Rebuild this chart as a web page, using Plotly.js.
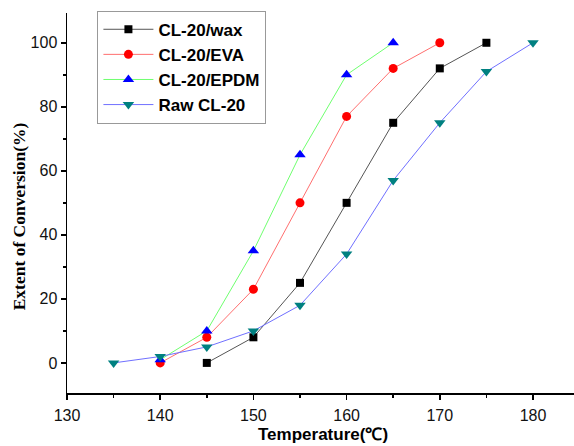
<!DOCTYPE html>
<html>
<head>
<meta charset="utf-8">
<script src="https://cdn.plot.ly/plotly-3.0.1.min.js"></script>
<style>html,body{margin:0;padding:0;background:#fff;}#chart{width:574px;height:446px;}</style>
</head>
<body>
<div id="chart"></div>
<script>
const waxT = [145, 150, 155, 160, 165, 170, 175];
const waxY = [0, 8, 25, 50, 75, 92, 100];
const evaT = [140, 145, 150, 155, 160, 165, 170];
const evaY = [0, 8, 23, 50, 77, 92, 100];
const epdmT = [140, 145, 150, 155, 160, 165];
const epdmY = [1, 10, 35, 65, 90, 100];
const rawT = [135, 140, 145, 150, 155, 160, 165, 170, 175, 180];
const rawY = [0, 2, 5, 10, 18, 34, 57, 75, 91, 100];
const names = ['CL-20/wax', 'CL-20/EVA', 'CL-20/EPDM', 'Raw CL-20'];
const xTicks = [130, 140, 150, 160, 170, 180];
const yTicks = [0, 20, 40, 60, 80, 100];
const xTitle = 'Temperature(℃)';
const yTitle = 'Extent of Conversion(%)';

const traces = [
  {x: waxT, y: waxY, name: names[0], mode: 'lines+markers',
   line: {color: '#555555', width: 1}, marker: {symbol: 'square', size: 8, color: '#000000'}},
  {x: evaT, y: evaY, name: names[1], mode: 'lines+markers',
   line: {color: '#ff6f6f', width: 1}, marker: {symbol: 'circle', size: 9, color: '#ff0000'}},
  {x: epdmT, y: epdmY, name: names[2], mode: 'lines+markers',
   line: {color: '#6fff6f', width: 1}, marker: {symbol: 'triangle-up', size: 10, color: '#0000ff'}},
  {x: rawT, y: rawY, name: names[3], mode: 'lines+markers',
   line: {color: '#7070ff', width: 1}, marker: {symbol: 'triangle-down', size: 10, color: '#008080'}}
];

const sans = 'Arial, Liberation Sans, sans-serif';
const layout = {
  width: 574, height: 446,
  margin: {l: 67, r: 0, t: 13, b: 53},
  paper_bgcolor: '#fff', plot_bgcolor: '#fff',
  showlegend: true,
  legend: {x: 0.06, y: 1.006, xanchor: 'left', yanchor: 'top',
    bordercolor: '#999', borderwidth: 1, bgcolor: '#fff',
    font: {family: sans, size: 17, color: '#000', weight: 'bold'},
    tracegroupgap: 0, itemwidth: 50},
  xaxis: {
    range: [130, 184.4], tickvals: xTicks, showgrid: false, zeroline: false,
    showline: true, linecolor: '#000', linewidth: 1.5, ticks: 'outside', ticklen: 5, tickwidth: 1.5, tickcolor: '#000',
    minor: {dtick: 5, tick0: 130, ticks: 'outside', ticklen: 3, tickwidth: 1.5, tickcolor: '#000'},
    tickfont: {family: sans, size: 16, color: '#111'}, ticklabelstandoff: 2
  },
  yaxis: {
    range: [-9.4, 109.3], tickvals: yTicks, showgrid: false, zeroline: false,
    showline: true, linecolor: '#000', linewidth: 1.5, ticks: 'outside', ticklen: 5, tickwidth: 1.5, tickcolor: '#000',
    minor: {dtick: 10, tick0: 0, ticks: 'outside', ticklen: 3, tickwidth: 1.5, tickcolor: '#000'},
    tickfont: {family: sans, size: 16, color: '#111'}
  },
  annotations: [{
    text: '<b>' + yTitle + '</b>', textangle: -90, showarrow: false,
    xref: 'paper', yref: 'paper', x: -0.0954, y: 0.464, xanchor: 'center', yanchor: 'middle',
    font: {family: 'Liberation Serif, Times New Roman, serif', size: 17.5, color: '#000'}
  }, {
    text: '<b>' + xTitle + '</b>', showarrow: false,
    xref: 'paper', yref: 'paper', x: 0.505, y: -0.108, xanchor: 'center', yanchor: 'middle',
    font: {family: sans, size: 17, color: '#000'}
  }]
};

Plotly.newPlot('chart', traces, layout, {displayModeBar: false, staticPlot: true});
</script>
</body>
</html>
